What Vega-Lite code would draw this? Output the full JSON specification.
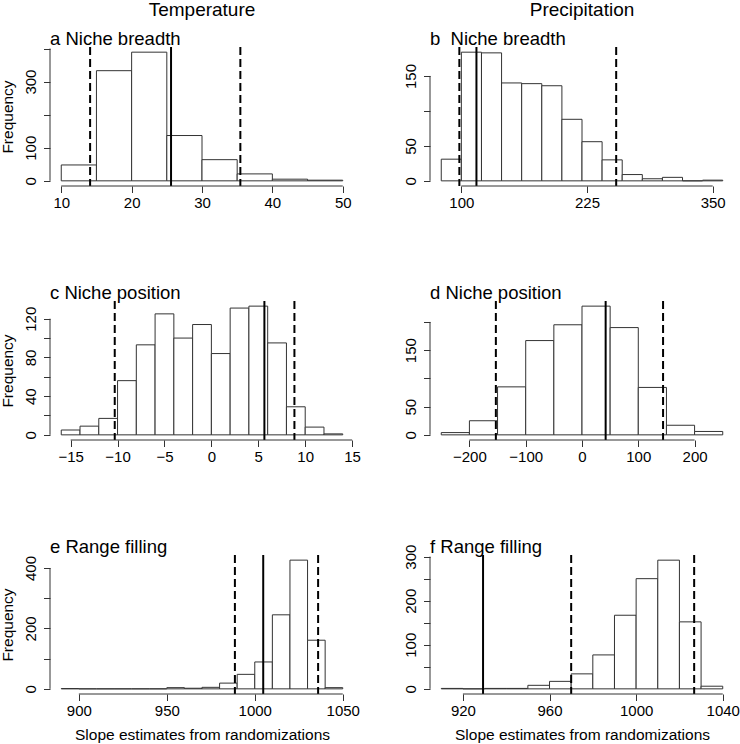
{
  "$schema": "https://vega.github.io/schema/vega-lite/v6.json",
  "padding": {"left": 0, "top": 0, "right": 0, "bottom": 0},
  "background": "white",
  "datasets": {
    "bars": [
      {"p": "a", "x0": 10, "x1": 15, "n": 48},
      {"p": "a", "x0": 15, "x1": 20, "n": 333},
      {"p": "a", "x0": 20, "x1": 25, "n": 389},
      {"p": "a", "x0": 25, "x1": 30, "n": 137},
      {"p": "a", "x0": 30, "x1": 35, "n": 64},
      {"p": "a", "x0": 35, "x1": 40, "n": 21},
      {"p": "a", "x0": 40, "x1": 45, "n": 5},
      {"p": "a", "x0": 45, "x1": 50, "n": 2},
      {"p": "b", "x0": 80, "x1": 100, "n": 31},
      {"p": "b", "x0": 100, "x1": 120, "n": 184},
      {"p": "b", "x0": 120, "x1": 140, "n": 183},
      {"p": "b", "x0": 140, "x1": 160, "n": 140},
      {"p": "b", "x0": 160, "x1": 180, "n": 139},
      {"p": "b", "x0": 180, "x1": 200, "n": 136},
      {"p": "b", "x0": 200, "x1": 220, "n": 88},
      {"p": "b", "x0": 220, "x1": 240, "n": 56},
      {"p": "b", "x0": 240, "x1": 260, "n": 30},
      {"p": "b", "x0": 260, "x1": 280, "n": 9},
      {"p": "b", "x0": 280, "x1": 300, "n": 3},
      {"p": "b", "x0": 300, "x1": 320, "n": 5},
      {"p": "b", "x0": 320, "x1": 340, "n": 0},
      {"p": "b", "x0": 340, "x1": 360, "n": 1},
      {"p": "c", "x0": -16, "x1": -14, "n": 5},
      {"p": "c", "x0": -14, "x1": -12, "n": 9},
      {"p": "c", "x0": -12, "x1": -10, "n": 17},
      {"p": "c", "x0": -10, "x1": -8, "n": 56},
      {"p": "c", "x0": -8, "x1": -6, "n": 93},
      {"p": "c", "x0": -6, "x1": -4, "n": 125},
      {"p": "c", "x0": -4, "x1": -2, "n": 100},
      {"p": "c", "x0": -2, "x1": 0, "n": 114},
      {"p": "c", "x0": 0, "x1": 2, "n": 84},
      {"p": "c", "x0": 2, "x1": 4, "n": 131},
      {"p": "c", "x0": 4, "x1": 6, "n": 133},
      {"p": "c", "x0": 6, "x1": 8, "n": 95},
      {"p": "c", "x0": 8, "x1": 10, "n": 29},
      {"p": "c", "x0": 10, "x1": 12, "n": 8},
      {"p": "c", "x0": 12, "x1": 14, "n": 1},
      {"p": "d", "x0": -250, "x1": -200, "n": 4},
      {"p": "d", "x0": -200, "x1": -150, "n": 25},
      {"p": "d", "x0": -150, "x1": -100, "n": 85},
      {"p": "d", "x0": -100, "x1": -50, "n": 167},
      {"p": "d", "x0": -50, "x1": 0, "n": 195},
      {"p": "d", "x0": 0, "x1": 50, "n": 228},
      {"p": "d", "x0": 50, "x1": 100, "n": 190},
      {"p": "d", "x0": 100, "x1": 150, "n": 84},
      {"p": "d", "x0": 150, "x1": 200, "n": 17},
      {"p": "d", "x0": 200, "x1": 250, "n": 6},
      {"p": "e", "x0": 890, "x1": 900, "n": 1},
      {"p": "e", "x0": 900, "x1": 910, "n": 0},
      {"p": "e", "x0": 910, "x1": 920, "n": 0},
      {"p": "e", "x0": 920, "x1": 930, "n": 0},
      {"p": "e", "x0": 930, "x1": 940, "n": 0},
      {"p": "e", "x0": 940, "x1": 950, "n": 0},
      {"p": "e", "x0": 950, "x1": 960, "n": 4},
      {"p": "e", "x0": 960, "x1": 970, "n": 2},
      {"p": "e", "x0": 970, "x1": 980, "n": 5},
      {"p": "e", "x0": 980, "x1": 990, "n": 19},
      {"p": "e", "x0": 990, "x1": 1000, "n": 48},
      {"p": "e", "x0": 1000, "x1": 1010, "n": 89},
      {"p": "e", "x0": 1010, "x1": 1020, "n": 245},
      {"p": "e", "x0": 1020, "x1": 1030, "n": 426},
      {"p": "e", "x0": 1030, "x1": 1040, "n": 161},
      {"p": "e", "x0": 1040, "x1": 1050, "n": 4},
      {"p": "f", "x0": 910, "x1": 920, "n": 1},
      {"p": "f", "x0": 920, "x1": 930, "n": 0},
      {"p": "f", "x0": 930, "x1": 940, "n": 1},
      {"p": "f", "x0": 940, "x1": 950, "n": 1},
      {"p": "f", "x0": 950, "x1": 960, "n": 8},
      {"p": "f", "x0": 960, "x1": 970, "n": 17},
      {"p": "f", "x0": 970, "x1": 980, "n": 34},
      {"p": "f", "x0": 980, "x1": 990, "n": 77},
      {"p": "f", "x0": 990, "x1": 1000, "n": 167},
      {"p": "f", "x0": 1000, "x1": 1010, "n": 250},
      {"p": "f", "x0": 1010, "x1": 1020, "n": 292},
      {"p": "f", "x0": 1020, "x1": 1030, "n": 152},
      {"p": "f", "x0": 1030, "x1": 1040, "n": 6}
    ],
    "lines": [
      {"p": "a", "v": 14.1, "t": "dashed"},
      {"p": "a", "v": 35.45, "t": "dashed"},
      {"p": "a", "v": 25.6, "t": "solid"},
      {"p": "b", "v": 98, "t": "dashed"},
      {"p": "b", "v": 254, "t": "dashed"},
      {"p": "b", "v": 115, "t": "solid"},
      {"p": "c", "v": -10.3, "t": "dashed"},
      {"p": "c", "v": 8.85, "t": "dashed"},
      {"p": "c", "v": 5.65, "t": "solid"},
      {"p": "d", "v": -153, "t": "dashed"},
      {"p": "d", "v": 144, "t": "dashed"},
      {"p": "d", "v": 42, "t": "solid"},
      {"p": "e", "v": 988.7, "t": "dashed"},
      {"p": "e", "v": 1036, "t": "dashed"},
      {"p": "e", "v": 1004.8, "t": "solid"},
      {"p": "f", "v": 970, "t": "dashed"},
      {"p": "f", "v": 1026.8, "t": "dashed"},
      {"p": "f", "v": 929.3, "t": "solid"}
    ],
    "labels": [
      {"p": "a", "label": "a Niche breadth"},
      {"p": "b", "label": "b\u00a0\u00a0Niche breadth"},
      {"p": "c", "label": "c Niche position"},
      {"p": "d", "label": "d Niche position"},
      {"p": "e", "label": "e Range filling"},
      {"p": "f", "label": "f Range filling"}
    ]
  },
  "columns": 2,
  "spacing": {"row": 115, "column": 76},
  "bounds": "flush",
  "resolve": {"scale": {"x": "independent", "y": "independent"}},
  "concat": [
    {
      "width": 304, "height": 139,
      "title": {"text": "Temperature"},
      "layer": [
        {"data": {"name": "bars"}, "transform": [{"filter": "datum.p === 'a'"}],
         "mark": {"type": "rect", "fill": "white", "stroke": "#333333", "strokeWidth": 1},
         "encoding": {
           "x": {"field": "x0", "type": "quantitative", "scale": {"domain": [8.4, 51.6], "nice": false, "zero": false}, "axis": {"values": [10, 20, 30, 40, 50], "tickCount": 20, "title": null, "labelOverlap": false}},
           "x2": {"field": "x1"},
           "y": {"field": "n", "type": "quantitative", "scale": {"domain": [-15.6, 404.6], "nice": false, "zero": false}, "axis": {"values": [0, 100, 200, 300, 400], "tickCount": 20, "labelExpr": "indexof([0,100,300], datum.value) >= 0 ? datum.label : ''", "title": "Frequency", "labelOverlap": false}},
           "y2": {"datum": 0}
         }},
        {"data": {"name": "lines"}, "transform": [{"filter": "datum.p === 'a' && datum.t === 'dashed'"}],
         "mark": {"type": "rule", "color": "black", "strokeWidth": 2, "strokeDash": [8, 4]},
         "encoding": {"x": {"field": "v", "type": "quantitative"}}},
        {"data": {"name": "lines"}, "transform": [{"filter": "datum.p === 'a' && datum.t === 'solid'"}],
         "mark": {"type": "rule", "color": "black", "strokeWidth": 2},
         "encoding": {"x": {"field": "v", "type": "quantitative"}}},
        {"data": {"name": "labels"}, "transform": [{"filter": "datum.p === 'a'"}],
         "mark": {"type": "rule", "color": "#333333"},
         "encoding": {"x": {"datum": 10}, "x2": {"datum": 50}, "y": {"datum": -15.6}}},
        {"data": {"name": "labels"}, "transform": [{"filter": "datum.p === 'a'"}],
         "mark": {"type": "rule", "color": "#333333"},
         "encoding": {"x": {"datum": 8.4}, "y": {"datum": 0}, "y2": {"datum": 400}}},
        {"data": {"name": "labels"}, "transform": [{"filter": "datum.p === 'a'"}],
         "mark": {"type": "text", "align": "left", "baseline": "alphabetic", "dy": -2, "fontSize": 18.5, "color": "black"},
         "encoding": {"x": {"datum": 8.4}, "y": {"datum": 404.6}, "text": {"field": "label"}}}
      ]
    },
    {
      "width": 304, "height": 139,
      "title": {"text": "Precipitation"},
      "layer": [
        {"data": {"name": "bars"}, "transform": [{"filter": "datum.p === 'b'"}],
         "mark": {"type": "rect", "fill": "white", "stroke": "#333333", "strokeWidth": 1},
         "encoding": {
           "x": {"field": "x0", "type": "quantitative", "scale": {"domain": [68.8, 371.2], "nice": false, "zero": false}, "axis": {"values": [100, 225, 350], "tickCount": 20, "title": null, "labelOverlap": false}},
           "x2": {"field": "x1"},
           "y": {"field": "n", "type": "quantitative", "scale": {"domain": [-7.36, 191.4], "nice": false, "zero": false}, "axis": {"values": [0, 50, 100, 150], "tickCount": 20, "labelExpr": "indexof([0,50,150], datum.value) >= 0 ? datum.label : ''", "title": null, "labelOverlap": false}},
           "y2": {"datum": 0}
         }},
        {"data": {"name": "lines"}, "transform": [{"filter": "datum.p === 'b' && datum.t === 'dashed'"}],
         "mark": {"type": "rule", "color": "black", "strokeWidth": 2, "strokeDash": [8, 4]},
         "encoding": {"x": {"field": "v", "type": "quantitative"}}},
        {"data": {"name": "lines"}, "transform": [{"filter": "datum.p === 'b' && datum.t === 'solid'"}],
         "mark": {"type": "rule", "color": "black", "strokeWidth": 2},
         "encoding": {"x": {"field": "v", "type": "quantitative"}}},
        {"data": {"name": "labels"}, "transform": [{"filter": "datum.p === 'b'"}],
         "mark": {"type": "rule", "color": "#333333"},
         "encoding": {"x": {"datum": 100}, "x2": {"datum": 350}, "y": {"datum": -7.36}}},
        {"data": {"name": "labels"}, "transform": [{"filter": "datum.p === 'b'"}],
         "mark": {"type": "rule", "color": "#333333"},
         "encoding": {"x": {"datum": 68.8}, "y": {"datum": 0}, "y2": {"datum": 150}}},
        {"data": {"name": "labels"}, "transform": [{"filter": "datum.p === 'b'"}],
         "mark": {"type": "text", "align": "left", "baseline": "alphabetic", "dy": -2, "fontSize": 18.5, "color": "black"},
         "encoding": {"x": {"datum": 68.8}, "y": {"datum": 191.4}, "text": {"field": "label"}}}
      ]
    },
    {
      "width": 304, "height": 139,
      "layer": [
        {"data": {"name": "bars"}, "transform": [{"filter": "datum.p === 'c'"}],
         "mark": {"type": "rect", "fill": "white", "stroke": "#333333", "strokeWidth": 1},
         "encoding": {
           "x": {"field": "x0", "type": "quantitative", "scale": {"domain": [-17.2, 15.2], "nice": false, "zero": false}, "axis": {"values": [-15, -10, -5, 0, 5, 10, 15], "tickCount": 20, "title": null, "labelOverlap": false}},
           "x2": {"field": "x1"},
           "y": {"field": "n", "type": "quantitative", "scale": {"domain": [-5.32, 138.3], "nice": false, "zero": false}, "axis": {"values": [0, 20, 40, 60, 80, 100, 120], "tickCount": 20, "labelExpr": "indexof([0,40,80,120], datum.value) >= 0 ? datum.label : ''", "title": "Frequency", "labelOverlap": false}},
           "y2": {"datum": 0}
         }},
        {"data": {"name": "lines"}, "transform": [{"filter": "datum.p === 'c' && datum.t === 'dashed'"}],
         "mark": {"type": "rule", "color": "black", "strokeWidth": 2, "strokeDash": [8, 4]},
         "encoding": {"x": {"field": "v", "type": "quantitative"}}},
        {"data": {"name": "lines"}, "transform": [{"filter": "datum.p === 'c' && datum.t === 'solid'"}],
         "mark": {"type": "rule", "color": "black", "strokeWidth": 2},
         "encoding": {"x": {"field": "v", "type": "quantitative"}}},
        {"data": {"name": "labels"}, "transform": [{"filter": "datum.p === 'c'"}],
         "mark": {"type": "rule", "color": "#333333"},
         "encoding": {"x": {"datum": -15}, "x2": {"datum": 15}, "y": {"datum": -5.32}}},
        {"data": {"name": "labels"}, "transform": [{"filter": "datum.p === 'c'"}],
         "mark": {"type": "rule", "color": "#333333"},
         "encoding": {"x": {"datum": -17.2}, "y": {"datum": 0}, "y2": {"datum": 120}}},
        {"data": {"name": "labels"}, "transform": [{"filter": "datum.p === 'c'"}],
         "mark": {"type": "text", "align": "left", "baseline": "alphabetic", "dy": -2, "fontSize": 18.5, "color": "black"},
         "encoding": {"x": {"datum": -17.2}, "y": {"datum": 138.3}, "text": {"field": "label"}}}
      ]
    },
    {
      "width": 304, "height": 139,
      "layer": [
        {"data": {"name": "bars"}, "transform": [{"filter": "datum.p === 'd'"}],
         "mark": {"type": "rect", "fill": "white", "stroke": "#333333", "strokeWidth": 1},
         "encoding": {
           "x": {"field": "x0", "type": "quantitative", "scale": {"domain": [-270, 270], "nice": false, "zero": false}, "axis": {"values": [-200, -100, 0, 100, 200], "tickCount": 20, "title": null, "labelOverlap": false}},
           "x2": {"field": "x1"},
           "y": {"field": "n", "type": "quantitative", "scale": {"domain": [-9.12, 237.1], "nice": false, "zero": false}, "axis": {"values": [0, 50, 100, 150, 200], "tickCount": 20, "labelExpr": "indexof([0,50,150], datum.value) >= 0 ? datum.label : ''", "title": null, "labelOverlap": false}},
           "y2": {"datum": 0}
         }},
        {"data": {"name": "lines"}, "transform": [{"filter": "datum.p === 'd' && datum.t === 'dashed'"}],
         "mark": {"type": "rule", "color": "black", "strokeWidth": 2, "strokeDash": [8, 4]},
         "encoding": {"x": {"field": "v", "type": "quantitative"}}},
        {"data": {"name": "lines"}, "transform": [{"filter": "datum.p === 'd' && datum.t === 'solid'"}],
         "mark": {"type": "rule", "color": "black", "strokeWidth": 2},
         "encoding": {"x": {"field": "v", "type": "quantitative"}}},
        {"data": {"name": "labels"}, "transform": [{"filter": "datum.p === 'd'"}],
         "mark": {"type": "rule", "color": "#333333"},
         "encoding": {"x": {"datum": -200}, "x2": {"datum": 200}, "y": {"datum": -9.12}}},
        {"data": {"name": "labels"}, "transform": [{"filter": "datum.p === 'd'"}],
         "mark": {"type": "rule", "color": "#333333"},
         "encoding": {"x": {"datum": -270}, "y": {"datum": 0}, "y2": {"datum": 200}}},
        {"data": {"name": "labels"}, "transform": [{"filter": "datum.p === 'd'"}],
         "mark": {"type": "text", "align": "left", "baseline": "alphabetic", "dy": -2, "fontSize": 18.5, "color": "black"},
         "encoding": {"x": {"datum": -270}, "y": {"datum": 237.1}, "text": {"field": "label"}}}
      ]
    },
    {
      "width": 304, "height": 139,
      "layer": [
        {"data": {"name": "bars"}, "transform": [{"filter": "datum.p === 'e'"}],
         "mark": {"type": "rect", "fill": "white", "stroke": "#333333", "strokeWidth": 1},
         "encoding": {
           "x": {"field": "x0", "type": "quantitative", "scale": {"domain": [883.6, 1056.4], "nice": false, "zero": false}, "axis": {"values": [900, 950, 1000, 1050], "tickCount": 20, "format": "d", "title": "Slope estimates from randomizations", "labelOverlap": false}},
           "x2": {"field": "x1"},
           "y": {"field": "n", "type": "quantitative", "scale": {"domain": [-17.04, 443], "nice": false, "zero": false}, "axis": {"values": [0, 100, 200, 300, 400], "tickCount": 20, "labelExpr": "indexof([0,200,400], datum.value) >= 0 ? datum.label : ''", "title": "Frequency", "labelOverlap": false}},
           "y2": {"datum": 0}
         }},
        {"data": {"name": "lines"}, "transform": [{"filter": "datum.p === 'e' && datum.t === 'dashed'"}],
         "mark": {"type": "rule", "color": "black", "strokeWidth": 2, "strokeDash": [8, 4]},
         "encoding": {"x": {"field": "v", "type": "quantitative"}}},
        {"data": {"name": "lines"}, "transform": [{"filter": "datum.p === 'e' && datum.t === 'solid'"}],
         "mark": {"type": "rule", "color": "black", "strokeWidth": 2},
         "encoding": {"x": {"field": "v", "type": "quantitative"}}},
        {"data": {"name": "labels"}, "transform": [{"filter": "datum.p === 'e'"}],
         "mark": {"type": "rule", "color": "#333333"},
         "encoding": {"x": {"datum": 900}, "x2": {"datum": 1050}, "y": {"datum": -17.04}}},
        {"data": {"name": "labels"}, "transform": [{"filter": "datum.p === 'e'"}],
         "mark": {"type": "rule", "color": "#333333"},
         "encoding": {"x": {"datum": 883.6}, "y": {"datum": 0}, "y2": {"datum": 400}}},
        {"data": {"name": "labels"}, "transform": [{"filter": "datum.p === 'e'"}],
         "mark": {"type": "text", "align": "left", "baseline": "alphabetic", "dy": -2, "fontSize": 18.5, "color": "black"},
         "encoding": {"x": {"datum": 883.6}, "y": {"datum": 443}, "text": {"field": "label"}}}
      ]
    },
    {
      "width": 304, "height": 139,
      "layer": [
        {"data": {"name": "bars"}, "transform": [{"filter": "datum.p === 'f'"}],
         "mark": {"type": "rect", "fill": "white", "stroke": "#333333", "strokeWidth": 1},
         "encoding": {
           "x": {"field": "x0", "type": "quantitative", "scale": {"domain": [904.8, 1045.2], "nice": false, "zero": false}, "axis": {"values": [920, 960, 1000, 1040], "tickCount": 20, "format": "d", "title": "Slope estimates from randomizations", "labelOverlap": false}},
           "x2": {"field": "x1"},
           "y": {"field": "n", "type": "quantitative", "scale": {"domain": [-11.68, 303.7], "nice": false, "zero": false}, "axis": {"values": [0, 50, 100, 150, 200, 250, 300], "tickCount": 20, "labelExpr": "indexof([0,100,200,300], datum.value) >= 0 ? datum.label : ''", "title": null, "labelOverlap": false}},
           "y2": {"datum": 0}
         }},
        {"data": {"name": "lines"}, "transform": [{"filter": "datum.p === 'f' && datum.t === 'dashed'"}],
         "mark": {"type": "rule", "color": "black", "strokeWidth": 2, "strokeDash": [8, 4]},
         "encoding": {"x": {"field": "v", "type": "quantitative"}}},
        {"data": {"name": "lines"}, "transform": [{"filter": "datum.p === 'f' && datum.t === 'solid'"}],
         "mark": {"type": "rule", "color": "black", "strokeWidth": 2},
         "encoding": {"x": {"field": "v", "type": "quantitative"}}},
        {"data": {"name": "labels"}, "transform": [{"filter": "datum.p === 'f'"}],
         "mark": {"type": "rule", "color": "#333333"},
         "encoding": {"x": {"datum": 920}, "x2": {"datum": 1040}, "y": {"datum": -11.68}}},
        {"data": {"name": "labels"}, "transform": [{"filter": "datum.p === 'f'"}],
         "mark": {"type": "rule", "color": "#333333"},
         "encoding": {"x": {"datum": 904.8}, "y": {"datum": 0}, "y2": {"datum": 300}}},
        {"data": {"name": "labels"}, "transform": [{"filter": "datum.p === 'f'"}],
         "mark": {"type": "text", "align": "left", "baseline": "alphabetic", "dy": -2, "fontSize": 18.5, "color": "black"},
         "encoding": {"x": {"datum": 904.8}, "y": {"datum": 303.7}, "text": {"field": "label"}}}
      ]
    }
  ],
  "config": {
    "font": "Liberation Sans",
    "view": {"stroke": null},
    "axis": {
      "domain": false,
      "grid": false,
      "tickColor": "#333333",
      "tickSize": 6.5,
      "tickCount": 20,
      "labelFontSize": 15,
      "labelColor": "black",
      "labelFlush": false,
      "labelOverlap": false,
      "titleFontSize": 15.5,
      "titleFontWeight": "normal",
      "titleColor": "black"
    },
    "axisX": {"labelPadding": 3, "titlePadding": 9},
    "axisY": {"labelAngle": -90, "labelAlign": "center", "labelBaseline": "bottom", "labelPadding": 5.5, "titlePadding": 8},
    "title": {"fontSize": 19, "fontWeight": "normal", "color": "black", "anchor": "middle", "frame": "group", "baseline": "alphabetic", "offset": 10.5}
  }
}
